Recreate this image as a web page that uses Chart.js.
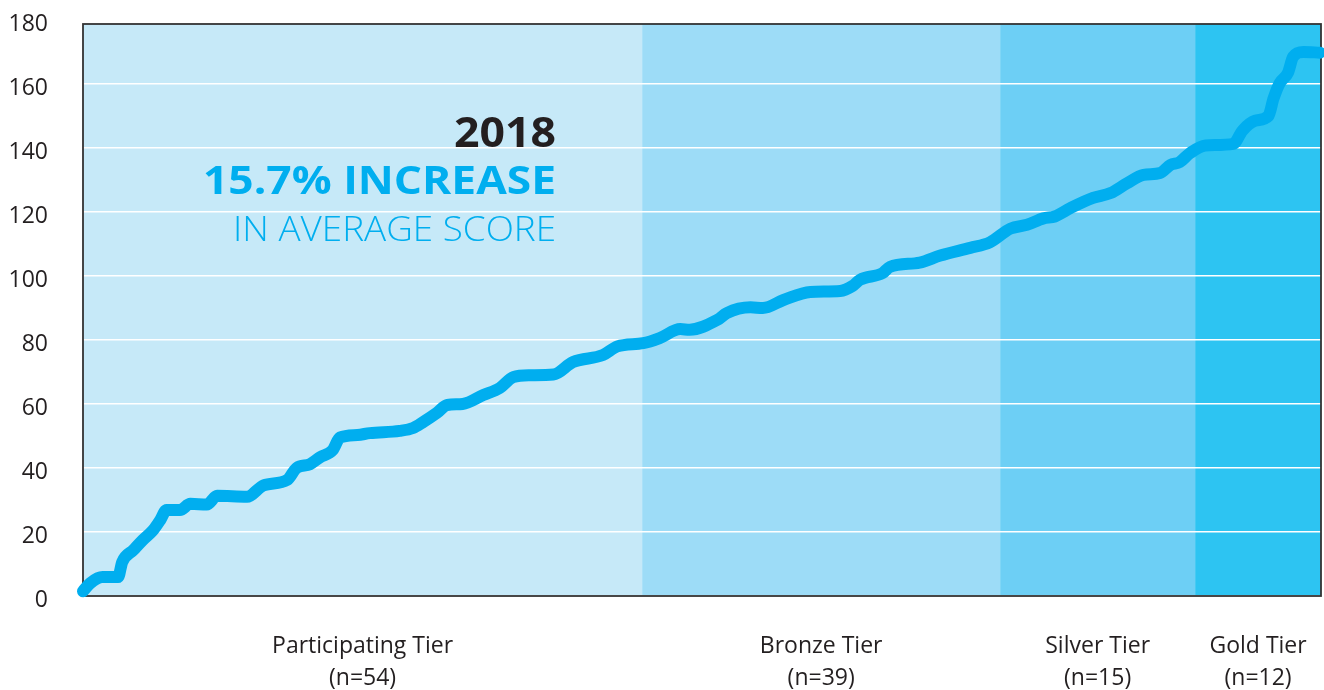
<!DOCTYPE html>
<html>
<head>
<meta charset="utf-8">
<script src="https://cdn.jsdelivr.net/npm/chart.js@4.4.1/dist/chart.umd.min.js"></script>
<style>
  html, body { margin: 0; padding: 0; background: #ffffff; }
  #wrap { width: 1324px; height: 690px; }
</style>
</head>
<body>
<div id="wrap"><canvas id="c" width="1324" height="690"></canvas></div>
<script>
// ---- data ----
const rankPos = [0, 0.7, 1.9, 3.4, 3.8, 4.9, 5.8, 6.8, 7.5, 8.1, 9.4, 10.4, 12.0, 13.0, 15.9, 17.5, 19.8, 20.7, 22.0, 23.0, 24.2, 24.9, 26.6, 27.8, 30.7, 32.0, 33.0, 34.3, 35.3, 36.8, 38.8, 40.4, 41.7, 43.3, 45.6, 47.5, 50.4, 51.8, 54.3, 55.9, 57.9, 58.8, 61.5, 62.4, 64.7, 65.9, 67.9, 70.5, 73.4, 74.6, 75.3, 77.5, 78.2, 81.1, 83.1, 86.0, 87.9, 89.9, 91.5, 93.1, 94.2, 95.7, 97.9, 99.6, 101.2, 102.8, 104.4, 105.4, 106.3, 107.3, 108.8, 111.5, 112.4, 113.6, 114.9, 115.4, 116.0, 116.8, 117.3, 118.3, 119.9];
const scores  = [1.5, 4, 5.9, 5.9, 10.6, 14.4, 17.5, 20.6, 23.8, 26.9, 26.9, 28.8, 28.6, 31.3, 31, 34.6, 36.3, 40, 41.2, 43.4, 45.6, 49.5, 50.3, 50.9, 51.6, 52.5, 54.4, 57.2, 59.7, 60, 62.8, 65, 68.4, 69, 69.2, 73.1, 75.3, 78, 79, 80.6, 83.4, 83.2, 86.3, 88.4, 90.2, 90, 92.5, 95, 95.3, 96.9, 98.8, 100.9, 102.8, 104.2, 106.4, 108.8, 110.5, 114.8, 116, 118, 118.6, 121.2, 124.4, 125.9, 129, 131.6, 132.2, 134.7, 135.6, 138.4, 140.8, 141.3, 145.5, 148.5, 150, 155.5, 160.3, 163.5, 168.5, 170, 169.8];
const tierNames  = ['Participating Tier', 'Bronze Tier', 'Silver Tier', 'Gold Tier'];
const tierCounts = [54, 39, 15, 12];
const tierBounds = [0, 54.2, 88.9, 107.8, 120];
const yTickValues = [0, 20, 40, 60, 80, 100, 120, 140, 160, 180];
const headline = ['2018', '15.7% INCREASE', 'IN AVERAGE SCORE'];

// ---- styles ----
const tierColors = ['#c6e9f8', '#9ddcf7', '#6dcff5', '#2dc4f2'];
const lineColor = '#00aeef';
const textDark = '#231f20';
const boxTop = 178.75;

const points = rankPos.map((x, i) => ({ x: x, y: scores[i] }));
const tierCenters = tierNames.map((_, i) => (tierBounds[i] + tierBounds[i + 1]) / 2);

function stretchText(ctx, text, right, baseline, targetWidth) {
  const w = ctx.measureText(text).width;
  const s = targetWidth / w;
  ctx.save();
  ctx.translate(right, baseline);
  ctx.scale(s, 1);
  ctx.textAlign = 'right';
  ctx.fillText(text, 0, 0);
  ctx.restore();
}

const bandsPlugin = {
  id: 'bands',
  beforeDraw(chart) {
    const { ctx, scales: { x, y } } = chart;
    ctx.save();
    const yt = y.getPixelForValue(boxTop);
    const yb = y.getPixelForValue(0);
    for (let i = 0; i < tierNames.length; i++) {
      const x0 = x.getPixelForValue(tierBounds[i]);
      const x1 = x.getPixelForValue(tierBounds[i + 1]);
      ctx.fillStyle = tierColors[i];
      ctx.fillRect(x0, yt, x1 - x0, yb - yt);
    }
    ctx.restore();
  },
  beforeDatasetsDraw(chart) {
    const { ctx, scales: { x, y } } = chart;
    ctx.save();
    const yt = y.getPixelForValue(boxTop);
    const yb = y.getPixelForValue(0);
    const xl = x.getPixelForValue(0);
    const xr = x.getPixelForValue(120);
    ctx.strokeStyle = '#333333';
    ctx.lineWidth = 1.8;
    ctx.strokeRect(xl, yt, xr - xl, yb - yt);
    ctx.textBaseline = 'alphabetic';
    ctx.fillStyle = textDark;
    ctx.font = 'bold 41px "Open Sans"';
    stretchText(ctx, headline[0], 556, 147, 102);
    ctx.fillStyle = lineColor;
    ctx.font = 'bold 40px "Open Sans"';
    stretchText(ctx, headline[1], 556, 194, 353);
    ctx.font = '300 35px "Open Sans"';
    stretchText(ctx, headline[2], 556, 241, 323);
    ctx.restore();
  }
};

new Chart(document.getElementById('c'), {
  type: 'line',
  data: {
    datasets: [{
      data: points,
      borderColor: lineColor,
      borderWidth: 12,
      pointRadius: 0,
      tension: 0.4,
      cubicInterpolationMode: 'monotone',
      borderCapStyle: 'round',
      borderJoinStyle: 'round',
      fill: false,
      clip: 10
    }]
  },
  options: {
    responsive: false,
    animation: false,
    layout: { padding: { top: 20, right: 3, left: 0, bottom: 0 } },
    plugins: { legend: { display: false }, tooltip: { enabled: false } },
    scales: {
      x: {
        type: 'linear',
        min: 0,
        max: 120,
        grid: { display: false },
        border: { display: false },
        afterBuildTicks(axis) { axis.ticks = tierCenters.map(v => ({ value: v })); },
        afterFit(axis) { axis.height = 94; axis.paddingLeft = 0; axis.paddingRight = 0; },
        ticks: {
          autoSkip: false,
          maxRotation: 0,
          padding: 26,
          color: textDark,
          font: { family: '"Open Sans"', size: 23, lineHeight: '32px' },
          callback(value) {
            const i = tierCenters.findIndex(c => Math.abs(c - value) < 1e-6);
            return i < 0 ? '' : [tierNames[i], '(n=' + tierCounts[i] + ')'];
          }
        }
      },
      y: {
        min: 0,
        max: 180,
        afterBuildTicks(axis) { axis.ticks = yTickValues.map(v => ({ value: v })); },
        afterFit(axis) { axis.width = 83; axis.paddingTop = 0; axis.paddingBottom = 0; },
        grid: { color: '#ffffff', lineWidth: 1.5, drawTicks: false },
        border: { display: false },
        ticks: {
          padding: 35,
          color: textDark,
          font: { family: '"Open Sans"', size: 23, lineHeight: '8px' },
          callback(value) { return ['', String(value)]; }
        }
      }
    }
  },
  plugins: [bandsPlugin]
});
</script>
</body>
</html>
